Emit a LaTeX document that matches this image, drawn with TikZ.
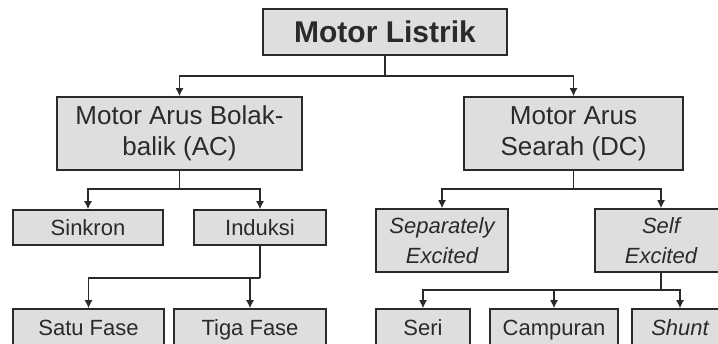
\documentclass[tikz,border=0pt]{standalone}
\usepackage{fontspec}
\setmainfont{Liberation Sans}
\usetikzlibrary{arrows.meta}

\definecolor{boxfill}{HTML}{DEDEDE}
\definecolor{ink}{HTML}{2A2A2A}

\tikzstyle{box}=[draw=ink,line width=1.5pt,fill=boxfill,text=ink,inner sep=0pt,align=center]
\tikzstyle{big box}=[box,font=\fontsize{26}{31}\selectfont]
\tikzstyle{small box}=[box,font=\fontsize{22}{30}\selectfont]
\tikzstyle{one line}=[text height=16pt,text depth=0pt]
\tikzstyle{stem} = [draw,line width=1.5pt,ink]
\tikzstyle{branch} = [draw,line width=1.5pt,ink,-{Latex[length=8pt,width=8pt]}]

\begin{document}
\begin{tikzpicture}[x=1pt,y=-1pt]
			\useasboundingbox (0,0) rectangle (718,344);
			\clip (0,0) rectangle (718,344);
			\node[box,font=\bfseries\fontsize{30}{36}\selectfont,text height=21.5pt,text depth=0pt,minimum width=244pt,minimum height=46pt] (listrik) at (385,32) {Motor Listrik};
			\node[big box,minimum width=245pt,minimum height=73pt] (ac) at (179.5,133.5) {Motor Arus Bolak-\\balik (AC)};
			\node[big box,minimum width=219pt,minimum height=73pt] (dc) at (573.5,133.5) {Motor Arus\\Searah (DC)};
			\node[small box,one line,minimum width=150pt,minimum height=35pt] (sinkron) at (88,227.5) {Sinkron};
			\node[small box,one line,minimum width=132pt,minimum height=35pt] (induksi) at (260,227.5) {Induksi};
			\node[small box,font=\itshape\fontsize{22}{30}\selectfont,minimum width=132pt,minimum height=63pt] (sep) at (442,240.5) {Separately\\Excited};
			\node[small box,font=\itshape\fontsize{22}{30}\selectfont,minimum width=132pt,minimum height=63pt] (self) at (661,240.5) {Self\\Excited};
			\node[small box,one line,minimum width=151pt,minimum height=38pt] (satu) at (88.5,328) {Satu Fase};
			\node[small box,one line,minimum width=152pt,minimum height=38pt] (tiga) at (250,328) {Tiga Fase};
			\node[small box,one line,minimum width=94pt,minimum height=38pt] (seri) at (423,328) {Seri};
			\node[small box,one line,minimum width=128pt,minimum height=38pt] (campuran) at (554,328) {Campuran};
			\node[small box,one line,font=\itshape\fontsize{22}{30}\selectfont,minimum width=96pt,minimum height=38pt] (shunt) at (680,328) {Shunt};
			% Split points below each parent
			\coordinate (listrikj) at (385,76);
			\coordinate (acj) at (179.5,189);
			\coordinate (dcj) at (573.5,189);
			\coordinate (induksij) at (260,278);
			\coordinate (selfj) at (661,290);
			% Stems from the parents down to the split points
			\foreach \source/ \dest in {listrik/listrikj,ac/acj,dc/dcj,induksi/induksij,self/selfj}
				\path[stem] (\source) -- (\dest);
			% Arrows from the split points to the children
			\foreach \source/ \dest in {listrikj/ac,listrikj/dc,acj/sinkron,acj/induksi,induksij/satu,induksij/tiga,dcj/sep,dcj/self,selfj/seri,selfj/campuran,selfj/shunt}
				\path[branch] (\source) -| (\dest);
		\end{tikzpicture}
\end{document}
